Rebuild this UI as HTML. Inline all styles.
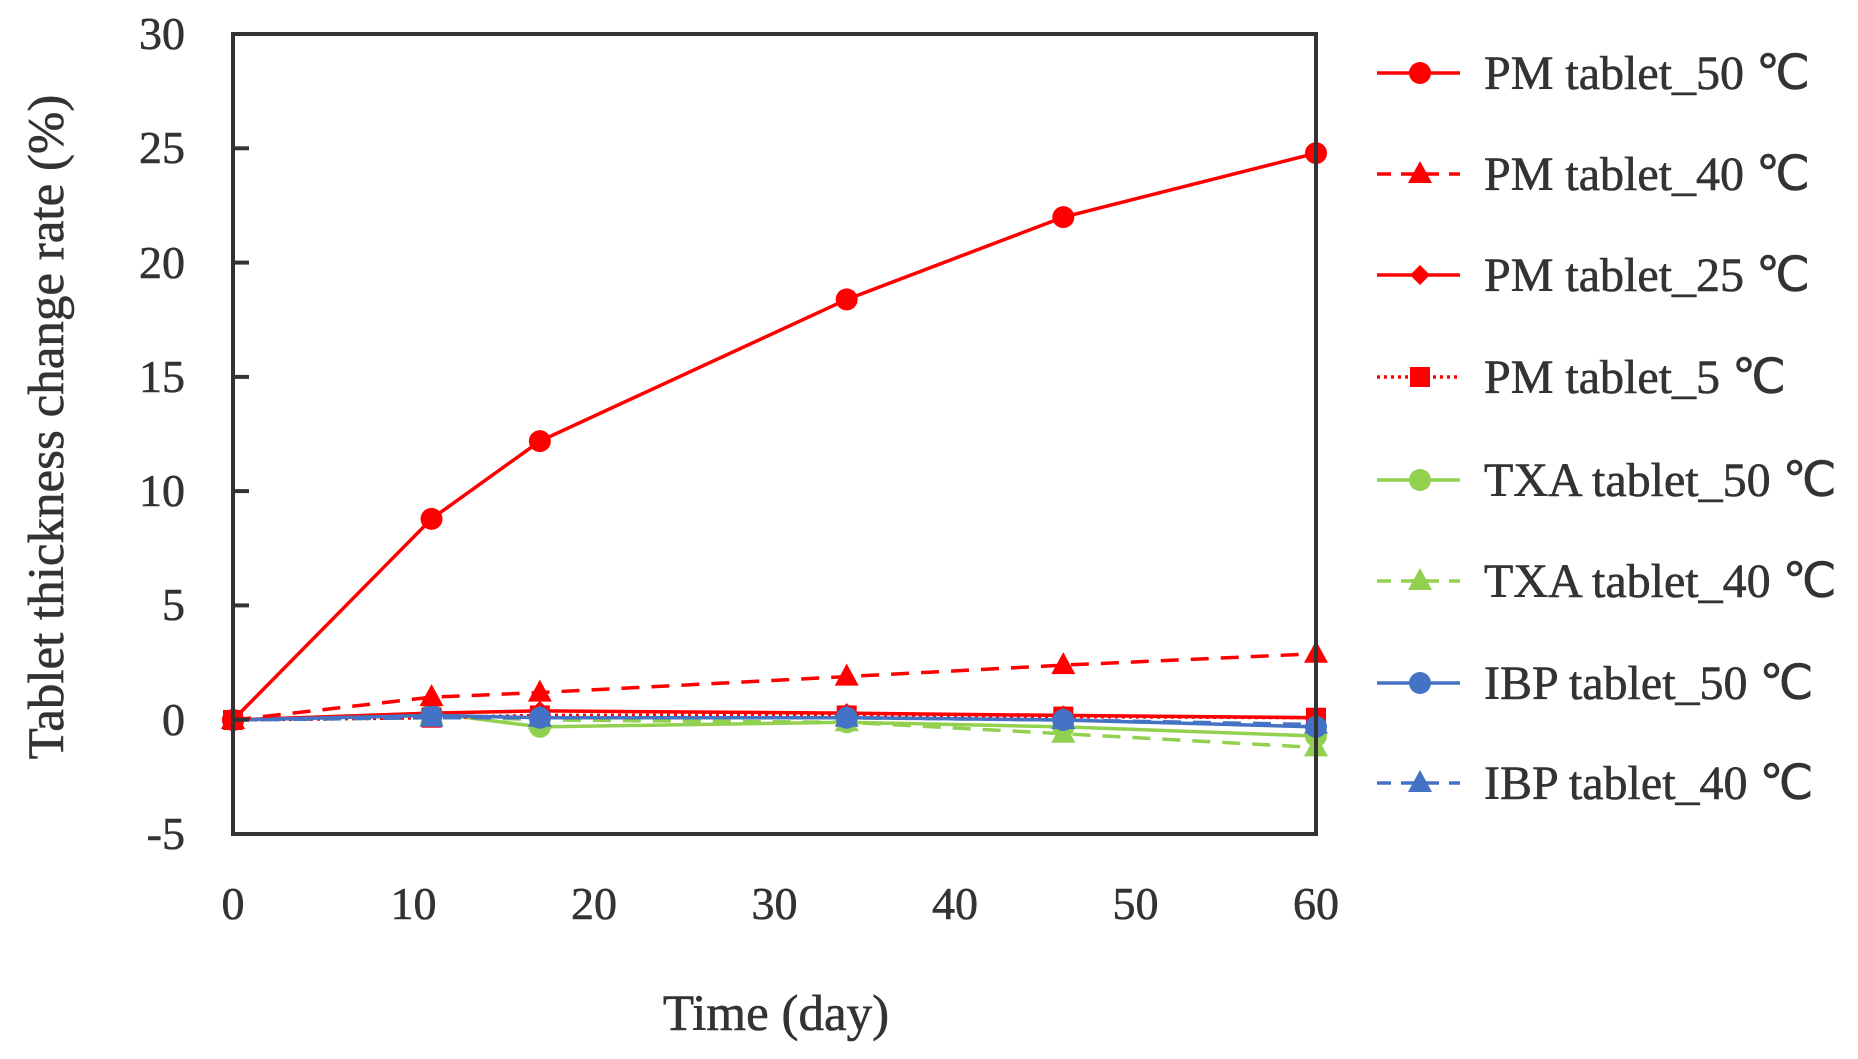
<!DOCTYPE html>
<html><head><meta charset="utf-8"><style>
html,body{margin:0;padding:0;background:#fff;width:1858px;height:1059px;overflow:hidden}
svg{display:block}
text{font-family:"Liberation Serif",serif;fill:#333;stroke:#333;stroke-width:0.6}
</style></head><body>
<svg id="s" width="1858" height="1059" viewBox="0 0 1858 1059">
<rect x="0" y="0" width="1858" height="1059" fill="#fff"/>
<g id="series"></g>
<rect x="233" y="34" width="1083" height="800" fill="none" stroke="#333" stroke-width="4"/>
<g stroke="#333" stroke-width="4">
<line x1="233" y1="148.3" x2="249" y2="148.3"/><line x1="233" y1="262.6" x2="249" y2="262.6"/>
<line x1="233" y1="376.9" x2="249" y2="376.9"/><line x1="233" y1="491.1" x2="249" y2="491.1"/>
<line x1="233" y1="605.4" x2="249" y2="605.4"/><line x1="233" y1="719.7" x2="249" y2="719.7"/>
</g>
<g font-size="46" text-anchor="end">
<text x="185" y="49">30</text><text x="185" y="163">25</text><text x="185" y="278">20</text>
<text x="185" y="392">15</text><text x="185" y="506">10</text><text x="185" y="620">5</text>
<text x="185" y="735">0</text><text x="185" y="849">-5</text>
</g>
<g font-size="46" text-anchor="middle">
<text x="233" y="919">0</text><text x="413.5" y="919">10</text><text x="594" y="919">20</text>
<text x="774.5" y="919">30</text><text x="955" y="919">40</text><text x="1135.5" y="919">50</text>
<text x="1316" y="919">60</text>
</g>
<text x="776" y="1030" font-size="51" text-anchor="middle">Time (day)</text>
<text transform="translate(63,427) rotate(-90)" font-size="51" text-anchor="middle">Tablet thickness change rate (%)</text>
<g id="legend"></g>
<g font-size="48">
<text x="1484" y="89">PM tablet_50 ℃</text>
<text x="1484" y="190">PM tablet_40 ℃</text>
<text x="1484" y="291">PM tablet_25 ℃</text>
<text x="1484" y="393">PM tablet_5 ℃</text>
<text x="1484" y="496">TXA tablet_50 ℃</text>
<text x="1484" y="597">TXA tablet_40 ℃</text>
<text x="1484" y="699">IBP tablet_50 ℃</text>
<text x="1484" y="799">IBP tablet_40 ℃</text>
</g>
</svg>
<script>
var NS="http://www.w3.org/2000/svg";
var days=[0,11,17,34,46,60];
function X(d){return 233+18.05*d}
function Y(v){return 720-v*22.857}
var R="#ff0000",G="#92d050",B="#4472c4";
var S=[
{c:G,d:null,m:"c",v:[0,0.3,-0.3,-0.1,-0.3,-0.7]},
{c:G,d:"18,12",m:"t",v:[0,0.2,0,-0.1,-0.6,-1.2]},
{c:R,d:"3,4",m:"s",v:[0,0.1,0.2,0.2,0.15,0.1]},
{c:R,d:null,m:"d",v:[0,0.3,0.4,0.3,0.2,0.1]},
{c:B,d:"18,12",m:"t",v:[0,0.1,0.1,0.1,0,-0.2]},
{c:B,d:null,m:"c",v:[0,0.2,0.1,0.1,0,-0.3]},
{c:R,d:"18,12",m:"t",v:[0,1,1.2,1.9,2.4,2.9]},
{c:R,d:null,m:"c",v:[0,8.8,12.2,18.4,22,24.8]}
];
function el(n,a,p){var e=document.createElementNS(NS,n);for(var k in a)e.setAttribute(k,a[k]);p.appendChild(e);return e}
function marker(m,x,y,c,p,sz){
 sz=sz||1;
 if(m=="c")el("circle",{cx:x,cy:y,r:11*sz,fill:c},p);
 else if(m=="t")el("polygon",{points:(x)+","+(y-13*sz)+" "+(x-12*sz)+","+(y+9*sz)+" "+(x+12*sz)+","+(y+9*sz),fill:c},p);
 else if(m=="s")el("rect",{x:x-10*sz,y:y-10*sz,width:20*sz,height:20*sz,fill:c},p);
 else if(m=="d")el("polygon",{points:x+","+(y-10*sz)+" "+(x+10*sz)+","+y+" "+x+","+(y+10*sz)+" "+(x-10*sz)+","+y,fill:c},p);
}
var g=document.getElementById("series");
S.forEach(function(s){
 var pts=days.map(function(d,i){return X(d)+","+Y(s.v[i])}).join(" ");
 var a={points:pts,fill:"none",stroke:s.c,"stroke-width":3.5};
 if(s.d)a["stroke-dasharray"]=s.d;
 el("polyline",a,g);
 days.forEach(function(d,i){marker(s.m,X(d),Y(s.v[i]),s.c,g)});
});
var L=[
{c:R,d:null,m:"c",y:73},{c:R,d:"14,10",m:"t",y:174},{c:R,d:null,m:"d",y:275},{c:R,d:"3,4",m:"s",y:377},
{c:G,d:null,m:"c",y:480},{c:G,d:"14,10",m:"t",y:581},{c:B,d:null,m:"c",y:683},{c:B,d:"14,10",m:"t",y:783}];
var lg=document.getElementById("legend");
L.forEach(function(l){
 var a={x1:1377,y1:l.y,x2:1460,y2:l.y,stroke:l.c,"stroke-width":3.5};
 if(l.d)a["stroke-dasharray"]=l.d;
 el("line",a,lg);
 marker(l.m,1420,l.y,l.c,lg);
});
</script>
</body></html>
